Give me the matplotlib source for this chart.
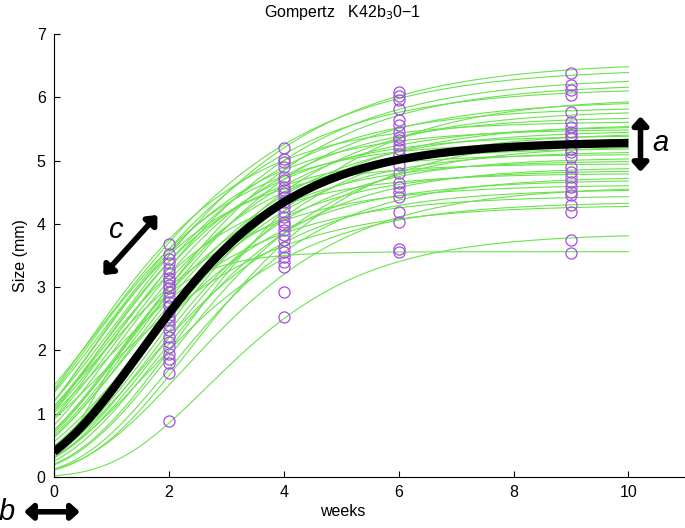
import matplotlib
matplotlib.use("Agg")
import matplotlib.pyplot as plt
import numpy as np

plt.rcParams['font.family'] = ['Liberation Sans', 'DejaVu Sans']

# individual Gompertz fits, described by asymptote and fitted size at weeks 2 and 4
fit_a = [6.56, 6.46, 6.32, 6.22, 6.15, 5.95, 5.85, 5.80, 5.70, 5.62,
         5.58, 5.55, 5.50, 5.48, 5.45, 5.40, 5.35, 5.30, 5.25, 5.20,
         5.15, 5.10, 5.05, 5.00, 4.95, 4.90, 4.85, 4.80, 4.75, 4.70,
         4.62, 4.55, 4.45, 4.35, 4.30, 3.85, 3.56, 5.40, 6.00, 4.60]
fit_w2 = [3.50, 3.70, 3.30, 3.00, 3.60, 2.90, 3.40, 2.60, 3.20, 3.75,
          2.40, 3.00, 3.55, 2.80, 2.20, 3.30, 2.65, 3.60, 1.90, 3.10,
          2.50, 3.40, 2.30, 2.90, 3.50, 2.10, 2.70, 3.20, 1.70, 2.50,
          3.00, 2.20, 2.80, 2.00, 2.60, 0.85, 2.90, 1.60, 2.00, 1.45]
fit_w4 = [5.20, 5.25, 5.00, 4.85, 5.10, 4.70, 4.90, 4.50, 4.75, 5.00,
          4.30, 4.60, 4.85, 4.45, 4.10, 4.70, 4.35, 4.75, 3.85, 4.50,
          4.20, 4.60, 4.05, 4.30, 4.55, 3.85, 4.10, 4.30, 3.55, 3.90,
          4.05, 3.70, 3.85, 3.45, 3.65, 2.50, 3.50, 3.70, 4.20, 3.20]

# mean fit: asymptote, size at week 0, rate
mean_a, mean_y0, mean_c = 5.30, 0.40, 0.64

# measured sizes (mm)
wk2 = [3.68, 3.53, 3.45, 3.38, 3.28, 3.22, 3.14, 3.09, 3.03, 2.98, 2.93,
       2.85, 2.77, 2.70, 2.61, 2.53, 2.48, 2.40, 2.32, 2.22, 2.14, 2.05,
       1.95, 1.87, 1.80, 1.64, 0.89]
wk4 = [5.20, 5.03, 4.98, 4.90, 4.74, 4.69, 4.59, 4.53, 4.48, 4.43, 4.35,
       4.27, 4.19, 4.11, 4.03, 3.98, 3.90, 3.82, 3.74, 3.64, 3.56, 3.48,
       3.40, 3.32, 2.93, 2.53]
wk6 = [6.08, 6.02, 5.95, 5.82, 5.64, 5.56, 5.45, 5.38, 5.32, 5.24, 5.19,
       5.11, 4.93, 4.80, 4.64, 4.59, 4.51, 4.43, 4.19, 4.03, 3.61, 3.56]
wk9 = [6.38, 6.19, 6.11, 6.03, 5.77, 5.61, 5.53, 5.45, 5.40, 5.35, 5.19,
       5.14, 5.06, 4.90, 4.82, 4.74, 4.66, 4.59, 4.51, 4.45, 4.30, 4.19,
       3.74, 3.54]
sample_weeks = [2, 4, 6, 9]


def gompertz(t, a, y0, c):
    b = np.log(a / y0)
    return a * np.exp(-b * np.exp(-c * t))


def params_from_points(a, v2, v4):
    # solve y = a*exp(-b*exp(-c t)) through (2, v2) and (4, v4)
    l2 = -np.log(v2 / a)
    l4 = -np.log(v4 / a)
    c = 0.5 * np.log(l2 / l4)
    y0 = a * np.exp(-l2 * l2 / l4)
    return a, y0, c


t = np.linspace(0, 10, 300)

fig = plt.figure(figsize=(6.85, 5.28), dpi=100)
ax = fig.add_axes([0.0788, 0.0966, 0.925, 0.839])

for a, v2, v4 in zip(fit_a, fit_w2, fit_w4):
    ax.plot(t, gompertz(t, *params_from_points(a, v2, v4)),
            color='#6ae34e', lw=0.8, zorder=2)

for wk, vals in zip(sample_weeks, [wk2, wk4, wk6, wk9]):
    ax.plot([wk] * len(vals), vals, 'o', ms=8, mfc='none', mec='#a44fe0',
            mew=0.9, zorder=3)

ax.plot(t, gompertz(t, mean_a, mean_y0, mean_c), color='k', lw=6,
        solid_capstyle='butt', zorder=4)

ax.set_xlim(0, 11.03)
ax.set_ylim(0, 7)
ax.set_xticks([0, 2, 4, 6, 8, 10])
ax.set_yticks(range(8))
ax.tick_params(direction='in', length=4, labelsize=11.5, pad=6)
for s in ['top', 'right']:
    ax.spines[s].set_visible(False)

ax.set_xlabel('weeks', fontsize=11.5)
ax.xaxis.set_label_coords(0.456, -0.062)
ax.set_ylabel('Size (mm)', fontsize=11.5, labelpad=6)
fig.text(0.5, 0.995, 'Gompertz   K42b$_3$0\u22121', ha='center', va='top',
         fontsize=11.5)

arrow = dict(arrowstyle='<|-|>,head_length=0.5,head_width=0.45',
             color='k', lw=4, shrinkA=0, shrinkB=0)
ax.annotate('', xy=(1.80, 4.14), xytext=(0.86, 3.19), arrowprops=arrow)
ax.text(1.07, 3.90, 'c', fontsize=21, style='italic', ha='center', va='center')
ax.annotate('', xy=(10.21, 5.70), xytext=(10.21, 4.82), arrowprops=arrow,
            annotation_clip=False)
ax.text(10.55, 5.28, 'a', fontsize=21, style='italic', ha='center', va='center')
ax.annotate('', xy=(0.45, -0.55), xytext=(-0.52, -0.55), arrowprops=arrow,
            annotation_clip=False)
ax.text(-0.82, -0.55, 'b', fontsize=21, style='italic', ha='center',
        va='center', clip_on=False)

fig.savefig('out.png', dpi=100)
